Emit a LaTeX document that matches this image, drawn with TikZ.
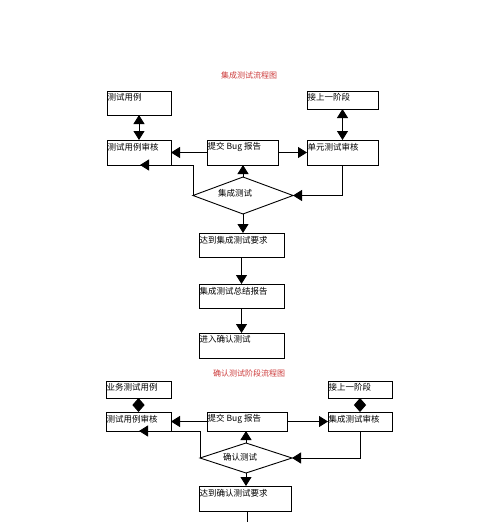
\documentclass[tikz,border=0pt]{standalone}
\usepackage{fontspec}
\newfontfamily\cjk{Noto Sans CJK SC}
\usetikzlibrary{arrows.meta,shapes.geometric}
\definecolor{ttlred}{RGB}{205,60,60}
\begin{document}
\begin{tikzpicture}[x=1pt,y=-1pt,
 box/.style={draw, line width=0.9pt, inner sep=0pt, outer sep=0pt, anchor=north west},
 txt/.style={font=\cjk\fontsize{8.5}{10}\selectfont, inner sep=0.5pt, anchor=west},
 ttl/.style={font=\cjk\fontsize{8}{10}\selectfont, text=ttlred, inner sep=0pt},
 ln/.style={line width=0.9pt},
 arr/.style={line width=0.9pt, -{Triangle[width=11pt,length=9pt]}},
 dbl/.style={line width=0.9pt, {Triangle[width=11pt,length=9pt]}-{Triangle[width=11pt,length=9pt]}},
 dmd/.style={line width=0.9pt, {Triangle[width=12pt,length=7pt]}-{Triangle[width=12pt,length=7pt]}},
 dia/.style={draw, diamond, line width=0.9pt, inner sep=0pt, outer sep=0pt}]
\useasboundingbox (0,0) rectangle (500,522);
\fill[white] (0,0) rectangle (500,522);

% ---------- top section ----------
\node[ttl] (t1) at (249,75) {集成测试流程图};

\node[box,minimum width=64pt,minimum height=24pt] (tc) at (107,91) {};
\node[txt] (tcl) at ([yshift=-6pt]tc.north west) {测试用例};
\node[box,minimum width=71pt,minimum height=18pt] (js1) at (307,91) {};
\node[txt] (js1l) at ([yshift=-6pt]js1.north west) {接上一阶段};

\node[box,minimum width=64pt,minimum height=25pt] (tcs) at (107,140) {};
\node[txt] (tcsl) at ([yshift=-7pt]tcs.north west) {测试用例审核};
\node[box,minimum width=71pt,minimum height=25pt] (bug) at (207,140) {};
\node[txt] (bugl) at ([yshift=-7pt]bug.north west) {提交 Bug 报告};
\node[box,minimum width=71pt,minimum height=25pt] (dy) at (307,140) {};
\node[txt] (dyl) at ([yshift=-7pt]dy.north west) {单元测试审核};

\node[dia,minimum width=100pt,minimum height=37pt] (d1) at (243,195.5) {};
\node[txt,anchor=center] (d1l) at (235,193) {集成测试};

\node[box,minimum width=85pt,minimum height=24pt] (da1) at (199,233) {};
\node[txt] (da1l) at ([yshift=-7pt]da1.north west) {达到集成测试要求};
\node[box,minimum width=85pt,minimum height=24pt] (zj) at (199,284) {};
\node[txt] (zjl) at ([yshift=-7pt]zj.north west) {集成测试总结报告};
\node[box,minimum width=85pt,minimum height=25pt] (jr) at (199,333) {};
\node[txt] (jrl) at ([yshift=-6pt]jr.north west) {进入确认测试};

\coordinate (c1) at (140,165);
\draw[dbl] (tc.south) -- (tcs.north);
\draw[dbl] (js1.south) -- (dy.north);
\draw[arr] (bug.west) -- (tcs.east);
\draw[arr] (bug.east) -- (dy.west);
\draw[arr] (d1.north) -- (d1.north |- bug.south);
\draw[arr] (d1.west) |- (c1);
\draw[arr] (dy.south) |- (d1.east);
\draw[arr] (d1.south) -- (d1.south |- da1.north);
\draw[arr] (da1.south) -- (zj.north);
\draw[arr] (zj.south) -- (jr.north);

% ---------- lower section ----------
\node[ttl] (t2) at (249,373) {确认测试阶段流程图};

\node[box,minimum width=65pt,minimum height=17pt] (yw) at (106,381) {};
\node[txt] (ywl) at ([yshift=-6pt]yw.north west) {业务测试用例};
\node[box,minimum width=64pt,minimum height=17pt] (js2) at (328,381) {};
\node[txt] (js2l) at ([yshift=-6pt]js2.north west) {接上一阶段};

\node[box,minimum width=65pt,minimum height=19pt] (tcs2) at (106,412) {};
\node[txt] (tcs2l) at ([yshift=-7pt]tcs2.north west) {测试用例审核};
\node[box,minimum width=80pt,minimum height=19pt] (bug2) at (207,412) {};
\node[txt] (bug2l) at ([yshift=-7pt]bug2.north west) {提交 Bug 报告};
\node[box,minimum width=64pt,minimum height=19pt] (jc) at (328,412) {};
\node[txt] (jcl) at ([yshift=-7pt]jc.north west) {集成测试审核};

\node[dia,minimum width=92pt,minimum height=30pt] (d2) at (246,458) {};
\node[txt,anchor=center] (d2l) at (240,457) {确认测试};

\node[box,minimum width=92pt,minimum height=25pt] (da2) at (199,486) {};
\node[txt] (da2l) at ([yshift=-7pt]da2.north west) {达到确认测试要求};

\coordinate (c2) at (139,431);
\coordinate (e2) at (247,522);
\draw[dmd] (yw.south) -- (tcs2.north);
\draw[dmd] (js2.south) -- (jc.north);
\draw[arr] (bug2.west) -- (tcs2.east);
\draw[arr] (bug2.east) -- (jc.west);
\draw[arr] (d2.north) -- (d2.north |- bug2.south);
\draw[arr] (d2.west) |- (c2);
\draw[arr] (jc.south) |- (d2.east);
\draw[arr] (d2.south) -- (d2.south |- da2.north);
\draw[ln] (e2 |- da2.south) -- (e2);
\end{tikzpicture}
\end{document}
